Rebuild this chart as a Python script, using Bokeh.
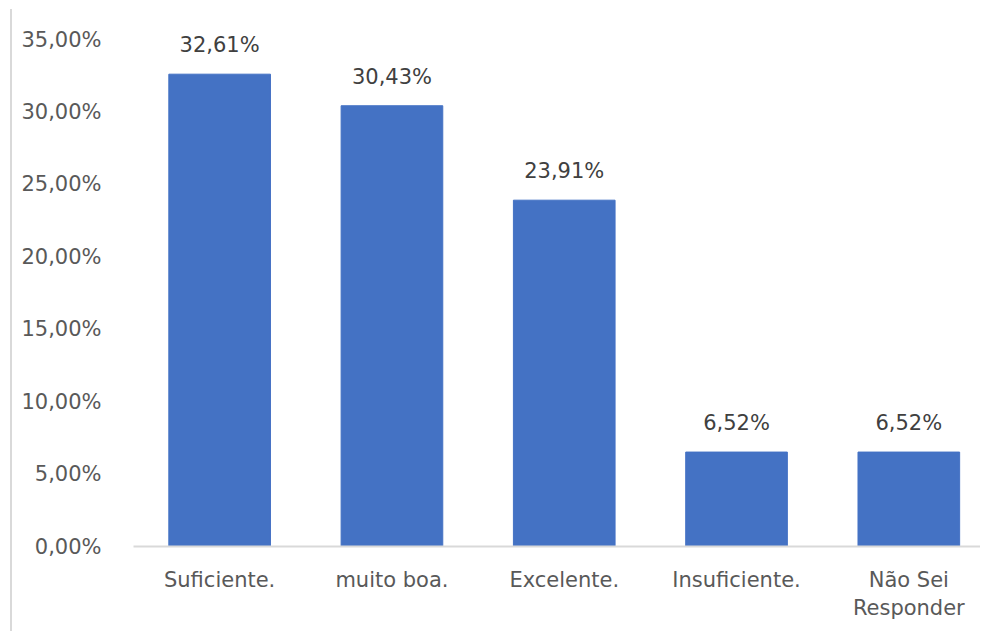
from bokeh.plotting import figure
from bokeh.models import ColumnDataSource, FixedTicker, Range1d
from bokeh.core.properties import value
from bokeh.embed import file_html
from bokeh.resources import INLINE

categories = ["Suficiente.", "muito boa.", "Excelente.", "Insuficiente.", "Não Sei\nResponder"]
values = [32.61, 30.43, 23.91, 6.52, 6.52]
y_ticks = [0, 5, 10, 15, 20, 25, 30, 35]
y_tick_labels = ["0,00%", "5,00%", "10,00%", "15,00%", "20,00%", "25,00%", "30,00%", "35,00%"]

FONT = "DejaVu Sans"
FS = "21px"

xs = list(range(len(categories)))
labels = [("%.2f%%" % v).replace(".", ",") for v in values]
src = ColumnDataSource(dict(x=xs, top=values, label=labels))

p = figure(width=980, height=631, output_backend="svg", toolbar_location=None,
           x_range=Range1d(-0.5, 4.416), y_range=Range1d(0, 36.73),
           min_border_left=133, min_border_right=0, min_border_top=14, min_border_bottom=85)
p.outline_line_color = None
p.background_fill_color = "white"
p.border_fill_color = None
p.xgrid.visible = False
p.ygrid.visible = False

p.vbar(x="x", top="top", width=0.59, bottom=0, source=src,
       fill_color="#4472C4", line_color="#4472C4")

p.text(x="x", y="top", text="label", source=src, text_align="center",
       text_baseline="alphabetic", y_offset=-29, text_color="#404040",
       text_font=value(FONT), text_font_size=FS)

# y axis
p.yaxis.ticker = FixedTicker(ticks=y_ticks)
p.yaxis.major_label_overrides = {t: l for t, l in zip(y_ticks, y_tick_labels)}
p.yaxis.axis_line_color = None
p.yaxis.major_tick_line_color = None
p.yaxis.minor_tick_line_color = None
p.yaxis.major_label_standoff = 26
p.yaxis.major_label_text_font = FONT
p.yaxis.major_label_text_font_size = FS
p.yaxis.major_label_text_color = "#595959"

# x axis
p.xaxis.ticker = FixedTicker(ticks=xs)
p.xaxis.major_label_overrides = {i: c for i, c in zip(xs, categories)}
p.xaxis.axis_line_color = "#d9d9d9"
p.xaxis.axis_line_width = 2
p.xaxis.major_tick_line_color = None
p.xaxis.minor_tick_line_color = None
p.xaxis.major_label_standoff = 15
p.xaxis.major_label_text_font = FONT
p.xaxis.major_label_text_font_size = FS
p.xaxis.major_label_text_color = "#595959"

p.styles = {"background": "white linear-gradient(#d9d9d9, #d9d9d9) 10px 9px / 2px 100% no-repeat"}

open("out.html", "w").write(file_html(p, INLINE))
